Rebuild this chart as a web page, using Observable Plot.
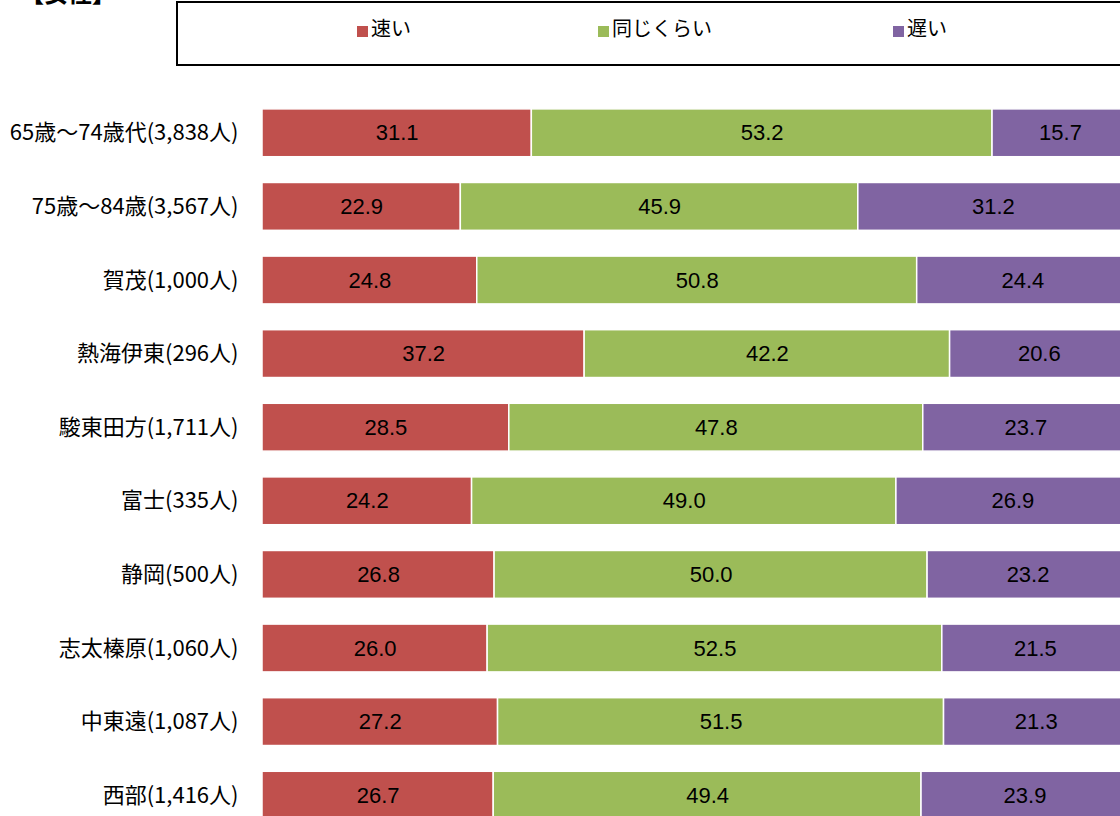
<!DOCTYPE html>
<html><head><meta charset="utf-8">
<script src="https://cdn.jsdelivr.net/npm/d3@7"></script>
<script src="https://cdn.jsdelivr.net/npm/@observablehq/plot@0.6"></script>
<style>
html,body{margin:0;padding:0;overflow:hidden;background:#fff;width:1120px;height:816px;}
#wrap{position:relative;width:1120px;height:816px;overflow:hidden;}
#chart{position:absolute;left:0;top:0;width:1128px;}
#title{position:absolute;left:20px;top:-20px;font:bold 24px "Noto Sans CJK JP";line-height:24px;color:#000;}
#legend{position:absolute;left:176px;top:1px;width:960px;height:61px;border:2px solid #000;box-sizing:content-box;background:#fff;}
.li{position:absolute;top:13px;font:20px "Noto Sans CJK JP";line-height:24px;color:#000;white-space:nowrap;}
.sw{display:inline-block;width:11px;height:11px;margin-right:3px;vertical-align:-1px;}
</style></head>
<body><div id="wrap"><div id="chart"></div><div id="title">【女性】</div><div id="legend"></div></div>
<script>
const categories = ["65歳～74歳代(3,838人)","75歳～84歳(3,567人)","賀茂(1,000人)","熱海伊東(296人)","駿東田方(1,711人)","富士(335人)","静岡(500人)","志太榛原(1,060人)","中東遠(1,087人)","西部(1,416人)"];
const seriesNames = ["速い","同じくらい","遅い"];
const seriesColors = ["#C0504D","#9BBB59","#8064A2"];
const fast = [31.1,22.9,24.8,37.2,28.5,24.2,26.8,26.0,27.2,26.7];
const same = [53.2,45.9,50.8,42.2,47.8,49.0,50.0,52.5,51.5,49.4];
const slow = [15.7,31.2,24.4,20.6,23.7,26.9,23.2,21.5,21.3,23.9];

const seriesValues = [fast, same, slow];
const rows = [];
categories.forEach((c, i) => {
  let acc = 0;
  seriesValues.forEach((vals, s) => {
    const v = vals[i];
    rows.push({cat: c, series: seriesNames[s], value: v, x1: acc, x2: acc + v});
    acc += v;
  });
});

const chart = Plot.plot({
  width: 1128,
  height: 840,
  marginLeft: 262,
  marginRight: 0,
  marginTop: 96,
  marginBottom: 8,
  style: {fontFamily: "Noto Sans CJK JP", background: "transparent", maxWidth: "none"},
  x: {domain: [0, 100], axis: null},
  y: {domain: categories, paddingInner: 0.35, paddingOuter: 0.175, round: false, label: null},
  color: {domain: seriesNames, range: seriesColors},
  marks: [
    Plot.barX(rows, {y: "cat", x1: "x1", x2: "x2", fill: "series", stroke: "white", strokeWidth: 1.5}),
    Plot.text(rows, {y: "cat", x: d => (d.x1 + d.x2) / 2, text: d => d.value.toFixed(1), fontSize: 22, fontFamily: "Liberation Sans", fill: "#000"}),
    Plot.axisY({tickSize: 0, tickPadding: 24, fontSize: 22, label: null, fill: "#000"})
  ]
});
document.getElementById("chart").appendChild(chart);

const legend = document.getElementById("legend");
const lx = [179, 420, 715];
seriesNames.forEach((n, i) => {
  const d = document.createElement("div");
  d.className = "li";
  d.style.left = lx[i] + "px";
  const sw = document.createElement("span");
  sw.className = "sw";
  sw.style.background = seriesColors[i];
  d.appendChild(sw);
  d.appendChild(document.createTextNode(n));
  legend.appendChild(d);
});
</script></body></html>
